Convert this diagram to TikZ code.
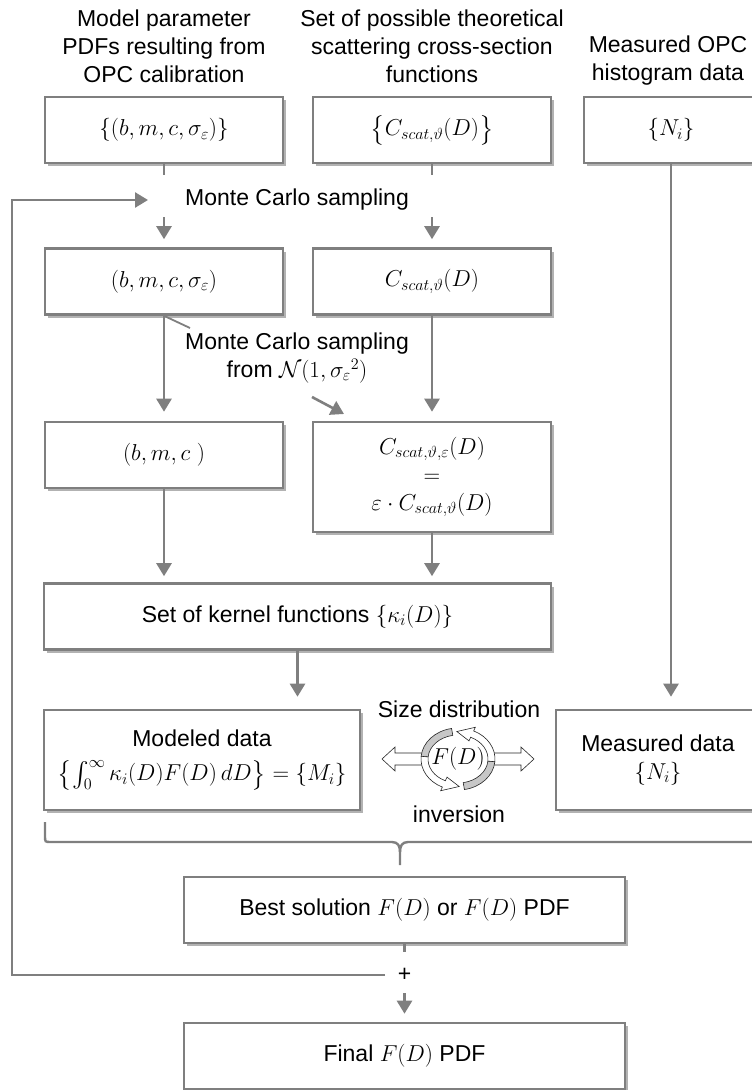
\RequirePackage{fix-cm}
\documentclass[tikz,border=0pt]{standalone}
\usepackage{amsmath}
\usepackage{exscale}
\usepackage{fontspec}
\setmainfont{Liberation Sans}
\usetikzlibrary{arrows.meta,shadows,calc}
\definecolor{linegray}{HTML}{7F7F7F}
\begin{document}
\begin{tikzpicture}[x=1pt,y=-1pt,
  font=\fontsize{23}{28}\selectfont,
  box/.style={draw=linegray, line width=2.6pt, fill=white, minimum width=238pt,
    minimum height=66pt, inner sep=2pt, align=center,
    drop shadow={shadow xshift=3pt, shadow yshift=-3pt, opacity=0.3, fill=black}},
  conn/.style={draw=linegray, line width=2.6pt},
  arr/.style={conn, -{Triangle[width=15pt,length=13pt]}},
  lbl/.style={align=center, inner sep=1pt},
  ribbon/.style={draw=black!85, line width=0.6pt}
]
\useasboundingbox (0,0) rectangle (752,1090);
\clip (0,0) rectangle (752,1090);

% top labels
\node[lbl] (t1) at (164,46.5) {Model parameter\\PDFs resulting from\\OPC calibration};
\node[lbl] (t2) at (432,46.5) {Set of possible theoretical\\scattering cross-section\\functions};
\node[lbl] (t3) at (668,61) {Measured OPC\\histogram data};

% boxes
\node[box] (p0) at (164,130) {$\{(b,m,c,\sigma_\varepsilon)\}$};
\node[box] (c0) at (432,130) {$\bigl\{C_{scat,\vartheta}(D)\bigr\}$};
\node[box, minimum width=174pt] (n0) at (671,130) {$\{N_i\}$};
\node[box] (p1) at (164,281.5) {$(b,m,c,\sigma_\varepsilon)$};
\node[box] (c1) at (432,281.5) {$C_{scat,\vartheta}(D)$};
\node[box] (p2) at (164,455) {$(b,m,c\;)$};
\node[box, minimum height=110pt] (c2) at (432,477) {$C_{scat,\vartheta,\varepsilon}(D)$\\$=$\\$\varepsilon\cdot C_{scat,\vartheta}(D)$};
\node[box, minimum width=507pt] (k) at (297.5,616.5) {Set of kernel functions $\{\kappa_i(D)\}$};
\node[box, minimum width=316pt, minimum height=100pt] (md) at (202,760) {Modeled data\\[6pt]$\bigl\{\int_0^\infty \kappa_i(D)F(D)\,dD\bigr\}=\{M_i\}$};
\node[box, minimum width=204pt, minimum height=100pt] (ms) at (658,760) {Measured data\\$\{N_i\}$};
\node[box, minimum width=441pt] (best) at (404.5,910) {Best solution $F(D)$ or $F(D)$ PDF};
\node[box, minimum width=441pt] (fin) at (404.5,1056) {Final $F(D)$ PDF};

% Monte Carlo sampling (top)
\node[lbl] (mc) at (297,200) {Monte Carlo sampling};
\coordinate (pStub) at (164,175);
\coordinate (cStub) at (432,175);
\coordinate (pArr) at (164,217);
\coordinate (cArr) at (432,217);
\draw[conn] (p0.south) -- (pStub);
\draw[conn] (c0.south) -- (cStub);
\draw[arr, shorten >=8pt] (pArr) -- (p1.north);
\draw[arr, shorten >=8pt] (cArr) -- (c1.north);

% second Monte Carlo label
\node[lbl] (mc2) at (297,358) {Monte Carlo sampling\\from $\mathcal{N}(1,{\sigma_\varepsilon}^2)$};
\coordinate (callEnd) at (190,328);
\draw[conn, line width=1.8pt] (p1.south) -- (callEnd);
\coordinate (eA) at (312,397);
\coordinate (eB) at (344,414);
\draw[arr] (eA) -- (eB);

\draw[arr, shorten >=9pt] (p1.south) -- (p2.north);
\draw[arr, shorten >=9pt] (c1.south) -- (c2.north);
\draw[arr, shorten >=6pt] (p2.south) -- (p2.south |- k.north);
\draw[arr, shorten >=6pt] (c2.south) -- (c2.south |- k.north);
\draw[arr, shorten >=12pt] (k.south) -- (k.south |- md.north);
\draw[arr, shorten >=12pt] (n0.south) -- (n0.south |- ms.north);

% size distribution inversion symbol
\node[lbl] (sd) at (459,709) {Size distribution};
\node[lbl] (inv) at (459,814) {inversion};
\coordinate (C) at (458,759);
\filldraw[ribbon, fill=white] (382,759) -- (395,747) -- (395,753) -- (424,753) -- (424,765) -- (395,765) -- (395,771) -- cycle;
\filldraw[ribbon, fill=white] (534,759) -- (521,747) -- (521,753) -- (492,753) -- (492,765) -- (521,765) -- (521,771) -- cycle;
\filldraw[ribbon, fill=black!22] ($(C)+(100:37pt and 31pt)$) arc[start angle=100, end angle=175, x radius=37pt, y radius=31pt]
  -- ($(C)+(175:30pt and 24pt)$) arc[start angle=175, end angle=100, x radius=30pt, y radius=24pt] -- cycle;
\filldraw[ribbon, fill=white] ($(C)+(175:37pt and 31pt)$) arc[start angle=175, end angle=245, x radius=37pt, y radius=31pt]
  -- ($(C)+(245:41pt and 35pt)$) -- ($(C)+(272:33.5pt and 27.5pt)$) -- ($(C)+(245:26pt and 20pt)$)
  -- ($(C)+(245:30pt and 24pt)$) arc[start angle=245, end angle=175, x radius=30pt, y radius=24pt] -- cycle;
\filldraw[ribbon, fill=black!22] ($(C)+(280:37pt and 31pt)$) arc[start angle=280, end angle=355, x radius=37pt, y radius=31pt]
  -- ($(C)+(355:30pt and 24pt)$) arc[start angle=355, end angle=280, x radius=30pt, y radius=24pt] -- cycle;
\filldraw[ribbon, fill=white] ($(C)+(355:37pt and 31pt)$) arc[start angle=355, end angle=425, x radius=37pt, y radius=31pt]
  -- ($(C)+(425:41pt and 35pt)$) -- ($(C)+(452:33.5pt and 27.5pt)$) -- ($(C)+(425:26pt and 20pt)$)
  -- ($(C)+(425:30pt and 24pt)$) arc[start angle=425, end angle=355, x radius=30pt, y radius=24pt] -- cycle;
\node[inner sep=0pt] (fd) at (C) {$F(D)$};

% brace under modeled/measured data
\draw[conn, line width=2.4pt] (45,822) -- (45,836) .. controls (45,842) .. (51,842) -- (392,842)
  .. controls (398,842) and (400,846) .. (400,852) -- (400,865);
\draw[conn, line width=2.4pt] (400,852) .. controls (400,846) and (402,842) .. (408,842) -- (765,842);

% best solution -> final, with feedback loop
\coordinate (bStub) at (404.5,952);
\draw[conn] (best.south) -- (bStub);
\node[inner sep=1pt] (plus) at (404.5,975) {+};
\coordinate (fbStart) at (385,975);
\coordinate (fbLeft) at (12,975);
\coordinate (fbEnd) at (148,200);
\draw[arr] (fbStart) -- (fbLeft) |- (fbEnd);
\coordinate (fArr) at (404.5,993);
\draw[arr, shorten >=8pt] (fArr) -- (fin.north);
\end{tikzpicture}
\end{document}
